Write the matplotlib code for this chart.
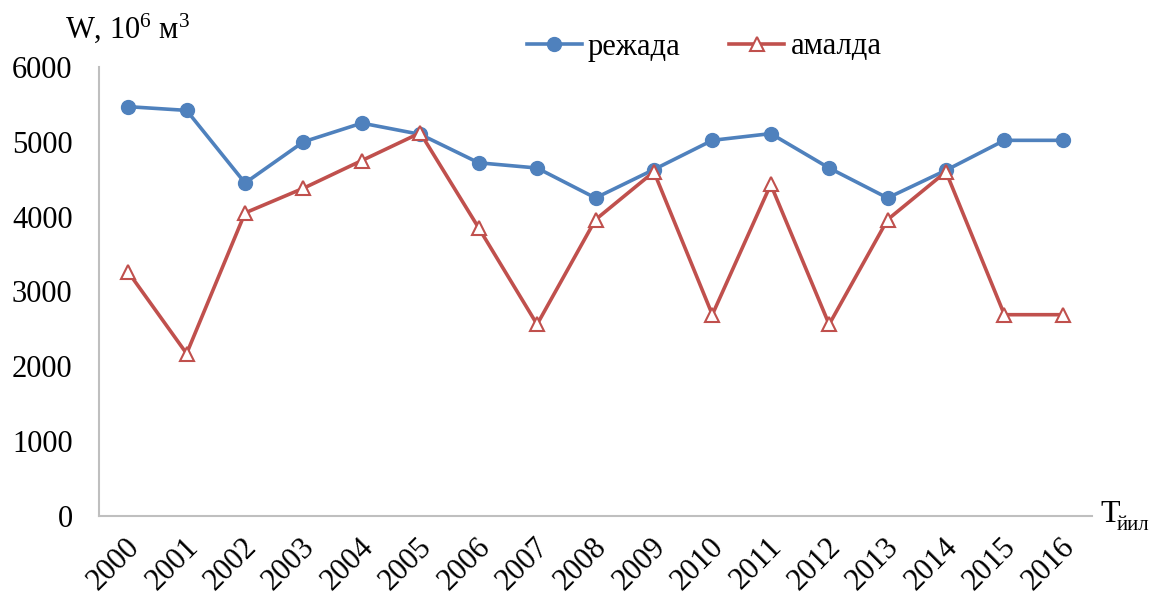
import matplotlib
matplotlib.use("Agg")
import matplotlib.pyplot as plt
from matplotlib.transforms import ScaledTranslation

years = ["2000", "2001", "2002", "2003", "2004", "2005", "2006", "2007", "2008",
         "2009", "2010", "2011", "2012", "2013", "2014", "2015", "2016"]
rezhada = [5470, 5420, 4450, 5000, 5250, 5100, 4720, 4650, 4250,
           4630, 5020, 5110, 4650, 4250, 4620, 5020, 5020]
amalda = [3260, 2170, 4050, 4380, 4750, 5120, 3850, 2560, 3960,
          4600, 2690, 4430, 2560, 3960, 4600, 2690, 2690]
yticks = [0, 1000, 2000, 3000, 4000, 5000, 6000]

plt.rcParams['font.family'] = ['Liberation Serif', 'DejaVu Serif']
plt.rcParams['mathtext.fontset'] = 'custom'
plt.rcParams['mathtext.rm'] = 'Liberation Serif'
plt.rcParams['mathtext.it'] = 'Liberation Serif:italic'

W, H = 1154, 601
fig = plt.figure(figsize=(W / 100, H / 100), dpi=100)
ax = fig.add_axes([99 / W, (H - 516) / H, (1092 - 99) / W, (516 - 67) / H])

x = list(range(len(years)))
blue = '#4f81bd'
red = '#c0504d'
ax.plot(x, rezhada, color=blue, lw=2.6, marker='o', ms=10, mfc=blue, mec=blue,
        label='режада', zorder=3)
ax.plot(x, amalda, color=red, lw=2.6, marker='^', ms=10, mfc='white', mec=red,
        mew=1.5, label='амалда', zorder=3)

ax.set_xlim(-0.5, len(years) - 0.5)
ax.set_ylim(0, 6000)
ax.set_yticks(yticks)
ax.set_yticklabels([str(v) for v in yticks], fontsize=22)
ax.set_xticks(x)
ax.set_xticklabels(years, fontsize=22, rotation=45, ha='right',
                   rotation_mode='anchor')
ax.tick_params(axis='both', length=0)
ax.tick_params(axis='y', pad=19)
ax.tick_params(axis='x', pad=12)
off = ScaledTranslation(-3 / 100, 0, fig.dpi_scale_trans)
for lbl in ax.get_xticklabels():
    lbl.set_transform(lbl.get_transform() + off)

for s in ['top', 'right']:
    ax.spines[s].set_visible(False)
for s in ['left', 'bottom']:
    ax.spines[s].set_color('#bfbfbf')
    ax.spines[s].set_linewidth(1.5)

fig.text(65 / W, 1 - 28 / H, 'W, 10$^{6}$ м$^{3}$', fontsize=22,
         ha='left', va='center')
fig.text(1100 / W, 1 - 515 / H, 'Т', fontsize=23, ha='left', va='center')
fig.text(1117 / W, 1 - 525 / H, 'йил', fontsize=15, ha='left', va='center')

leg = ax.legend(loc='center', bbox_to_anchor=(704 / W, 1 - 47 / H),
                bbox_transform=fig.transFigure, ncol=2, frameon=False,
                fontsize=22, handlelength=1.8, columnspacing=1.6,
                handletextpad=0.2)

fig.savefig('out.png', dpi=100)
